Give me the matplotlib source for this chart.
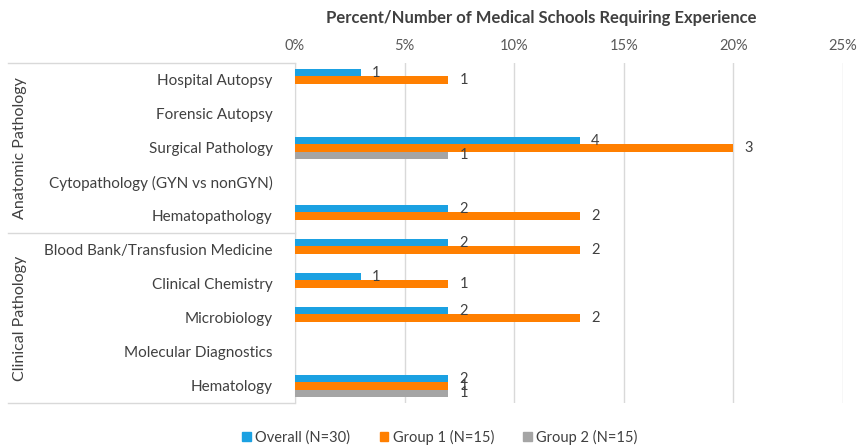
import matplotlib
matplotlib.use("Agg")
import matplotlib.pyplot as plt
from matplotlib.lines import Line2D
import numpy as np

plt.rcParams['font.family'] = ['Lato', 'DejaVu Sans']

categories = ["Hospital Autopsy", "Forensic Autopsy", "Surgical Pathology",
              "Cytopathology (GYN vs nonGYN)", "Hematopathology",
              "Blood Bank/Transfusion Medicine", "Clinical Chemistry",
              "Microbiology", "Molecular Diagnostics", "Hematology"]
groups = ["Anatomic Pathology", "Clinical Pathology"]
group_sizes = [5, 5]

series_names = ["Overall (N=30)", "Group 1 (N=15)", "Group 2 (N=15)"]
overall_pct = [3, 0, 13, 0, 7, 7, 3, 7, 0, 7]
group1_pct = [7, 0, 20, 0, 13, 13, 7, 13, 0, 7]
group2_pct = [0, 0, 7, 0, 0, 0, 0, 0, 0, 7]
overall_counts = [1, 0, 4, 0, 2, 2, 1, 2, 0, 2]
group1_counts = [1, 0, 3, 0, 2, 2, 1, 2, 0, 1]
group2_counts = [0, 0, 1, 0, 0, 0, 0, 0, 0, 1]
colors = ["#1BA1E2", "#FF7F00", "#A5A5A5"]

xticks = [0, 5, 10, 15, 20, 25]
xtick_labels = ["0%", "5%", "10%", "15%", "20%", "25%"]

W, H = 857, 447
fig = plt.figure(figsize=(W / 100, H / 100), dpi=100)
ax = fig.add_axes([295 / W, 1 - 403 / H, (843 - 295) / W, (403 - 63) / H])

y = np.arange(len(categories))
bh = 0.21
all_pct = [overall_pct, group1_pct, group2_pct]
all_counts = [overall_counts, group1_counts, group2_counts]
for k, (vals, cnts, c) in enumerate(zip(all_pct, all_counts, colors)):
    yy = y + (k - 1) * bh
    ax.barh(yy, vals, height=bh, color=c, zorder=3)
    for yi, v, cnt in zip(yy, vals, cnts):
        if cnt > 0:
            ax.annotate(str(cnt), (v, yi), xytext=(11, 0), textcoords="offset points",
                        ha="center", va="center", fontsize=10.5, color="#404040", zorder=4)

ax.set_xlim(0, 25)
ax.set_ylim(len(categories) - 0.5, -0.5)
ax.set_xticks(xticks)
ax.set_xticklabels(xtick_labels)
ax.xaxis.tick_top()
ax.tick_params(axis='x', length=0, labelsize=10.5, colors="#595959", pad=7)
ax.set_yticks(y)
ax.set_yticklabels(categories)
ax.tick_params(axis='y', length=0, labelsize=11, colors="#404040", pad=16)
ax.grid(axis='x', color="#D9D9D9", linewidth=1, zorder=0)
for s in ["top", "right", "bottom"]:
    ax.spines[s].set_visible(False)
ax.spines["left"].set_color("#D9D9D9")

fig.text(541 / W, 1 - 18 / H, "Percent/Number of Medical Schools Requiring Experience",
         ha="center", va="center", fontsize=12, fontweight="bold", color="#404040")

# group boxes on the left
x0 = 8 / W
xr = 295 / W
start = 0
line_ys = [63]
for g, sz in zip(groups, group_sizes):
    top = 80 - 17 + start * 34
    bot = top + sz * 34
    line_ys.append(bot)
    yc = 1 - (top + bot) / 2 / H
    fig.text(20 / W, yc, g, rotation=90, ha="center", va="center",
             fontsize=11.5, color="#404040")
    start += sz
for ly in line_ys:
    fig.add_artist(Line2D([x0, xr], [1 - ly / H, 1 - ly / H], color="#D9D9D9", linewidth=1))

handles = [plt.Rectangle((0, 0), 1, 1, color=c) for c in colors]
fig.legend(handles, series_names, loc="center", bbox_to_anchor=(440 / W, 1 - 437 / H),
           ncol=3, frameon=False, fontsize=10.5, handlelength=0.6, handleheight=0.6,
           handletextpad=0.3, columnspacing=2.0, labelcolor="#404040")

fig.savefig("out.png", dpi=100)
